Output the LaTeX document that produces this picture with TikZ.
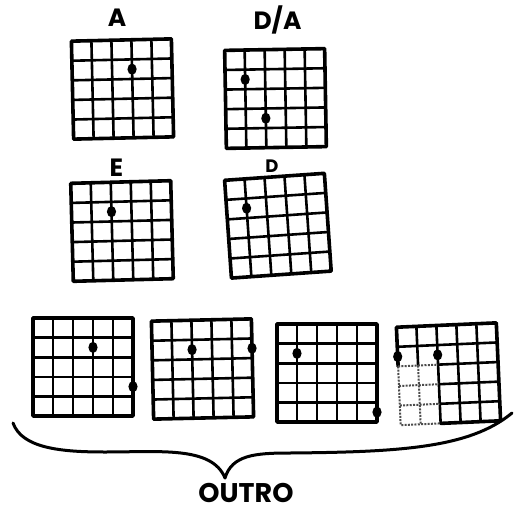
\documentclass[tikz,border=0pt]{standalone}
\usepackage{fontspec}
\setsansfont{Poppins}
\begin{document}
\begin{tikzpicture}[x=1pt,y=-1pt,
  innerline/.style={line width=2.6pt},
  outerline/.style={line width=3.6pt, line join=round, line cap=round},
  fadedline/.style={line width=2pt, black!70, dash pattern=on 2pt off 1.3pt},
  bracestyle/.style={line width=3pt, line cap=round, line join=round},
  lbl/.style={font=\sffamily\bfseries\fontsize{25}{25}\selectfont, inner sep=0pt},
  biglbl/.style={font=\sffamily\bfseries\fontsize{27}{27}\selectfont, inner sep=0pt, anchor=base}]
\useasboundingbox (0,0) rectangle (531,512);
\newcommand\fretgrid{%
  \foreach \k in {1,2,3,4} {%
    \draw[innerline] (-50+20*\k,-49) -- (-50+20*\k,49);
    \draw[innerline] (-50,-49+19.6*\k) -- (50,-49+19.6*\k);}
  \draw[outerline] (-50,-49) rectangle (50,49);}
\newcommand\fingerdot[2]{\fill (-50+20*#1,-49+19.6*#2+9.8) ellipse [x radius=4.6, y radius=5.6];}

% A
\node[lbl] (lA) at (117,18) {A};
\begin{scope}[shift={(122.5,89)}, rotate=1.3]
  \fretgrid \fingerdot{3}{1}
\end{scope}
% D/A
\node[lbl] (lDA) at (277.5,20) {D/A};
\begin{scope}[shift={(275.5,98.5)}, rotate=1]
  \fretgrid \fingerdot{1}{1} \fingerdot{2}{3}
\end{scope}
% E
\node[lbl] (lE) at (116.5,167.5) {E};
\begin{scope}[shift={(122,231)}, rotate=1.5]
  \fretgrid \fingerdot{2}{1}
\end{scope}
% D
\node[lbl, font=\sffamily\bfseries\fontsize{18}{18}\selectfont] (lD) at (272,166) {D};
\begin{scope}[shift={(277.9,225.7)}, rotate=4]
  \fretgrid \fingerdot{1}{1}
\end{scope}
% outro grids
\begin{scope}[shift={(83,367)}]
  \fretgrid \fingerdot{3}{1} \fingerdot{5}{3}
\end{scope}
\begin{scope}[shift={(202.5,369)}, rotate=1.3]
  \fretgrid \fingerdot{2}{1} \fingerdot{5}{1}
\end{scope}
\begin{scope}[shift={(327,373)}]
  \fretgrid \fingerdot{1}{1} \fingerdot{5}{4}
\end{scope}
\begin{scope}[shift={(448.5,374)}, rotate=2.5]
  % solid parts
  \draw[innerline] (-30,-49) -- (-30,-9.8);
  \foreach \k in {2,3,4} \draw[innerline] (-50+20*\k,-49) -- (-50+20*\k,49);
  \draw[innerline] (-50,-29.4) -- (50,-29.4);
  \foreach \k in {2,3,4} \draw[innerline] (-10,-49+19.6*\k) -- (50,-49+19.6*\k);
  \draw[outerline] (-50,-9.8) -- (-50,-49) -- (50,-49) -- (50,49) -- (-10,49);
  % faded parts
  \draw[fadedline] (-50,-9.8) -- (-50,49) -- (-10,49);
  \draw[fadedline] (-30,-9.8) -- (-30,49);
  \foreach \k in {2,3,4} \draw[fadedline] (-50,-49+19.6*\k) -- (-10,-49+19.6*\k);
  \fingerdot{0}{1} \fingerdot{2}{1}
\end{scope}

% brace
\coordinate (bl) at (13,423);
\coordinate (bt) at (225,478);
\coordinate (br) at (512,413);
\draw[bracestyle] (bl) .. controls (22,448) and (60,452) .. (105,452)
  .. controls (160,452) and (212,446) .. (bt)
  .. controls (232,455) and (255,453) .. (290,453)
  .. controls (400,452) and (470,448) .. (br);
\node[biglbl] (outro) at (246,502) {OUTRO};
\end{tikzpicture}
\end{document}
